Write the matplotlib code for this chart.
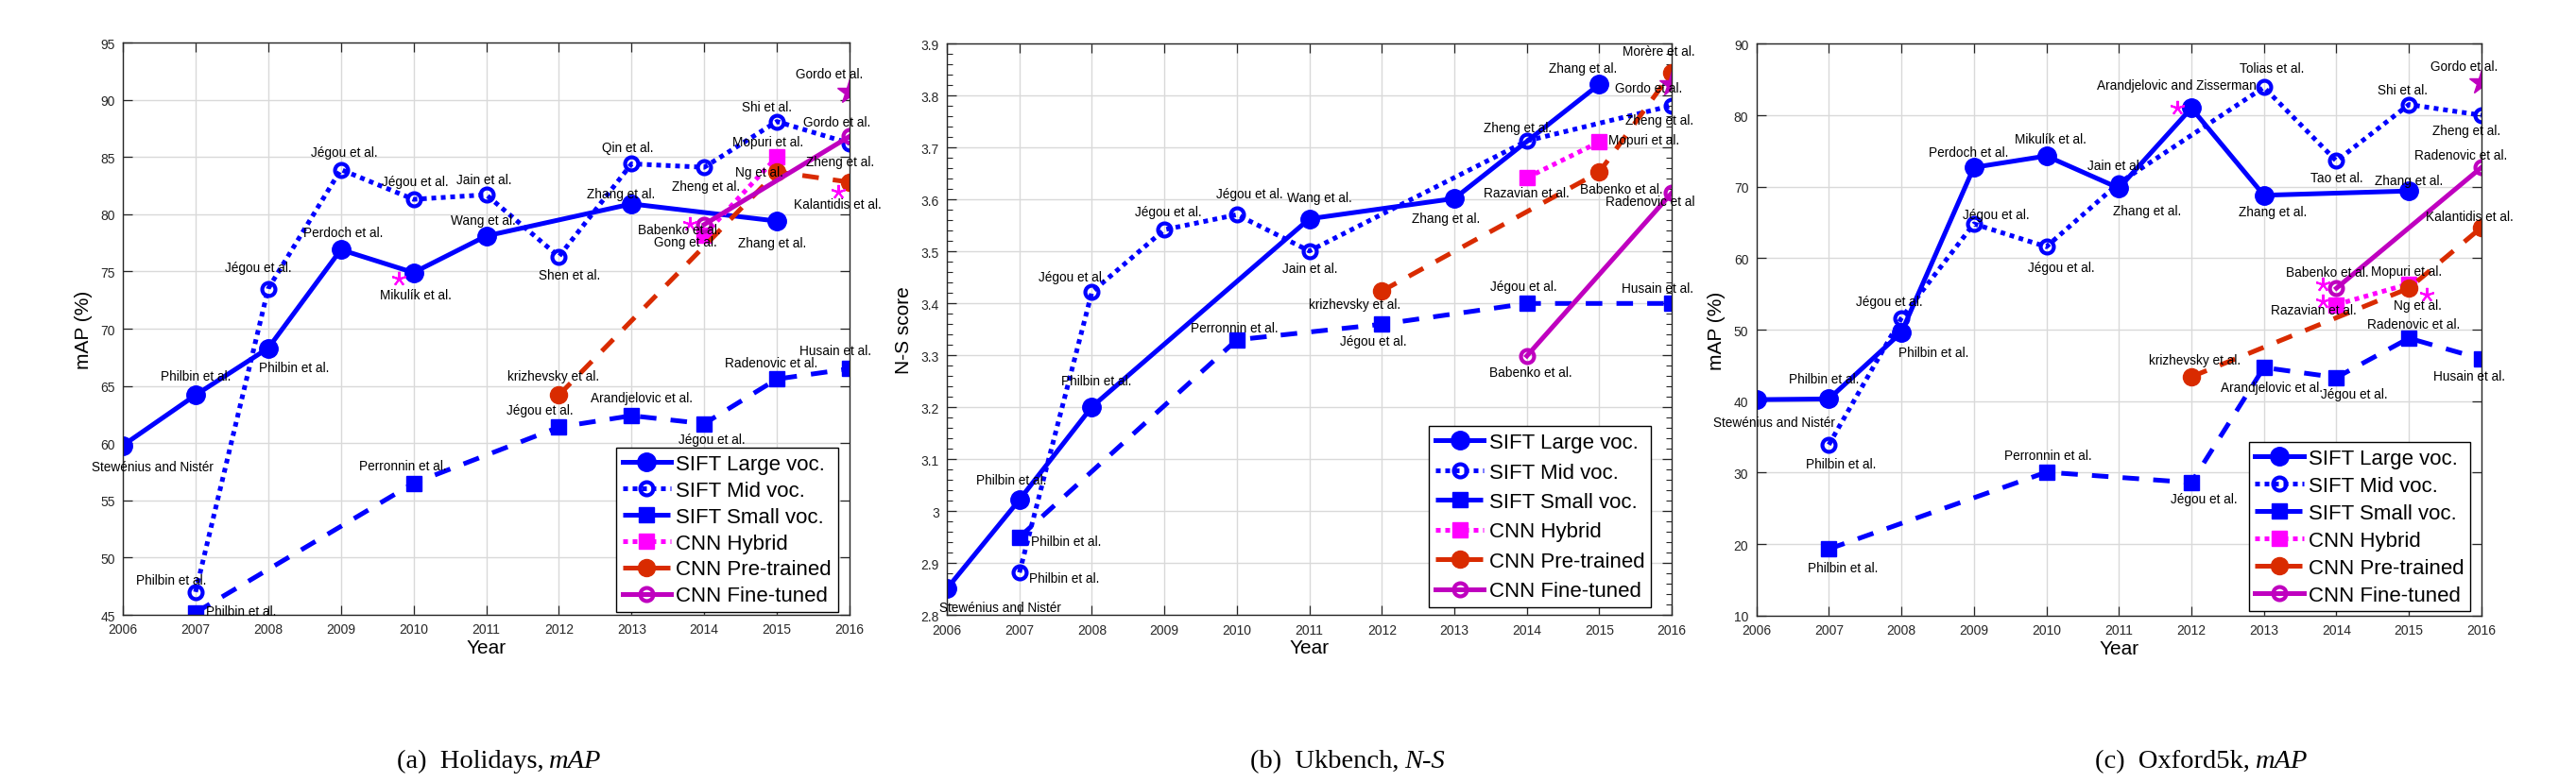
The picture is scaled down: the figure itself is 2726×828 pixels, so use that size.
import matplotlib
matplotlib.use('Agg')
import matplotlib.pyplot as plt
from matplotlib.ticker import MultipleLocator, FuncFormatter

plt.rcParams['font.family'] = ['Liberation Sans', 'DejaVu Sans']

names = ['SIFT Large voc.', 'SIFT Mid voc.', 'SIFT Small voc.',
         'CNN Hybrid', 'CNN Pre-trained', 'CNN Fine-tuned']

# ---------------- (a) Holidays, mAP ----------------
a_large_x = [2006, 2007, 2008, 2009, 2010, 2011, 2013, 2015]
a_large_y = [59.8, 64.2, 68.3, 76.9, 74.9, 78.1, 80.9, 79.4]
a_mid_x = [2007, 2008, 2009, 2010, 2011, 2012, 2013, 2014, 2015, 2016]
a_mid_y = [47.0, 73.5, 83.9, 81.3, 81.7, 76.3, 84.4, 84.1, 88.1, 86.2]
a_small_x = [2007, 2010, 2012, 2013, 2014, 2015, 2016]
a_small_y = [45.2, 56.5, 61.4, 62.4, 61.7, 65.6, 66.5]
a_hyb_x = [2014, 2015]
a_hyb_y = [78.2, 85.0]
a_pre_x = [2012, 2015, 2016]
a_pre_y = [64.2, 83.7, 82.8]
a_fine_x = [2014, 2016]
a_fine_y = [79.1, 86.8]
a_ast_x = [2009.8, 2013.8, 2015.84]
a_ast_y = [74.4, 79.2, 82.0]
a_star_x = [2016]
a_star_y = [90.7]
a_notes = [
    (2006.41, 57.95, 'Stewénius and Nistér'), (2007.0, 65.85, 'Philbin et al.'),
    (2008.35, 66.6, 'Philbin et al.'), (2006.67, 48.05, 'Philbin et al.'),
    (2007.63, 45.35, 'Philbin et al.'), (2009.85, 58.0, 'Perronnin et al.'),
    (2007.86, 75.4, 'Jégou et al.'), (2009.05, 85.45, 'Jégou et al.'),
    (2009.03, 78.4, 'Perdoch et al.'), (2010.02, 82.9, 'Jégou et al.'),
    (2010.03, 73.0, 'Mikulík et al.'), (2010.97, 83.0, 'Jain et al.'),
    (2010.96, 79.5, 'Wang et al.'), (2012.14, 74.7, 'Shen et al.'),
    (2012.95, 85.85, 'Qin et al.'), (2012.85, 81.8, 'Zhang et al.'),
    (2014.03, 82.5, 'Zheng et al.'), (2014.86, 89.35, 'Shi et al.'),
    (2015.72, 92.25, 'Gordo et al.'), (2015.82, 88.05, 'Gordo et al.'),
    (2014.88, 86.3, 'Mopuri et al.'), (2015.87, 84.6, 'Zheng et al.'),
    (2014.76, 83.7, 'Ng et al.'), (2015.83, 80.9, 'Kalantidis et al.'),
    (2013.65, 78.65, 'Babenko et al.'), (2013.74, 77.6, 'Gong et al.'),
    (2014.94, 77.55, 'Zhang et al.'), (2011.93, 65.85, 'krizhevsky et al.'),
    (2011.74, 62.9, 'Jégou et al.'), (2013.14, 63.95, 'Arandjelovic et al.'),
    (2014.1, 60.35, 'Jégou et al.'), (2014.92, 67.0, 'Radenovic et al.'),
    (2015.8, 68.1, 'Husain et al.'),
]

# ---------------- (b) Ukbench, N-S ----------------
b_large_x = [2006, 2007, 2008, 2011, 2013, 2015]
b_large_y = [2.851, 3.022, 3.201, 3.563, 3.602, 3.822]
b_mid_x = [2007, 2008, 2009, 2010, 2011, 2014, 2016]
b_mid_y = [2.882, 3.422, 3.542, 3.571, 3.501, 3.713, 3.781]
b_small_x = [2007, 2010, 2012, 2014, 2016]
b_small_y = [2.95, 3.33, 3.36, 3.40, 3.40]
b_hyb_x = [2014, 2015]
b_hyb_y = [3.642, 3.711]
b_pre_x = [2012, 2015, 2016]
b_pre_y = [3.424, 3.653, 3.845]
b_fine_x = [2014, 2016]
b_fine_y = [3.299, 3.613]
b_ast_x = []
b_ast_y = []
b_star_x = [2016]
b_star_y = [3.822]
b_notes = [
    (2006.73, 2.815, 'Stewénius and Nistér'), (2006.89, 3.06, 'Philbin et al.'),
    (2008.06, 3.251, 'Philbin et al.'), (2007.64, 2.942, 'Philbin et al.'),
    (2007.62, 2.871, 'Philbin et al.'), (2009.96, 3.353, 'Perronnin et al.'),
    (2011.88, 3.327, 'Jégou et al.'), (2007.73, 3.451, 'Jégou et al.'),
    (2009.06, 3.577, 'Jégou et al.'), (2010.17, 3.611, 'Jégou et al.'),
    (2011.14, 3.604, 'Wang et al.'), (2011.01, 3.467, 'Jain et al.'),
    (2011.62, 3.398, 'krizhevsky et al.'), (2012.89, 3.564, 'Zhang et al.'),
    (2013.87, 3.739, 'Zheng et al.'), (2013.99, 3.613, 'Razavian et al.'),
    (2013.96, 3.433, 'Jégou et al.'), (2014.77, 3.853, 'Zhang et al.'),
    (2015.82, 3.886, 'Morère et al.'), (2015.68, 3.816, 'Gordo et al.'),
    (2015.83, 3.753, 'Zheng et al.'), (2015.62, 3.716, 'Mopuri et al.'),
    (2015.3, 3.621, 'Babenko et al.'), (2015.7, 3.597, 'Radenovic et al'),
    (2015.8, 3.43, 'Husain et al.'), (2014.05, 3.268, 'Babenko et al.'),
]

# ---------------- (c) Oxford5k, mAP ----------------
c_large_x = [2006, 2007, 2008, 2009, 2010, 2011, 2012, 2013, 2015]
c_large_y = [40.2, 40.3, 49.6, 72.7, 74.3, 69.8, 81.0, 68.8, 69.4]
c_mid_x = [2007, 2008, 2009, 2010, 2011, 2013, 2014, 2015, 2016]
c_mid_y = [33.9, 51.6, 64.8, 61.6, 70.5, 83.9, 73.6, 81.5, 80.0]
c_small_x = [2007, 2010, 2012, 2013, 2014, 2015, 2016]
c_small_y = [19.3, 30.05, 28.6, 44.7, 43.3, 48.8, 45.9]
c_hyb_x = [2014, 2015]
c_hyb_y = [53.5, 56.4]
c_pre_x = [2012, 2015, 2016]
c_pre_y = [43.4, 55.8, 64.3]
c_fine_x = [2014, 2016]
c_fine_y = [55.8, 72.7]
c_ast_x = [2011.8, 2013.81, 2013.81, 2015.25]
c_ast_y = [81.05, 56.4, 54.0, 54.9]
c_star_x = [2016]
c_star_y = [84.6]
c_notes = [
    (2006.24, 37.0, 'Stewénius and Nistér'), (2006.93, 43.1, 'Philbin et al.'),
    (2008.45, 46.8, 'Philbin et al.'), (2007.17, 31.2, 'Philbin et al.'),
    (2007.2, 16.7, 'Philbin et al.'), (2010.02, 32.4, 'Perronnin et al.'),
    (2012.17, 26.3, 'Jégou et al.'), (2012.04, 45.8, 'krizhevsky et al.'),
    (2007.83, 54.0, 'Jégou et al.'), (2008.93, 74.8, 'Perdoch et al.'),
    (2009.31, 66.1, 'Jégou et al.'), (2010.06, 76.65, 'Mikulík et al.'),
    (2010.21, 58.7, 'Jégou et al.'), (2010.95, 73.0, 'Jain et al.'),
    (2011.39, 66.7, 'Zhang et al.'), (2011.80, 84.2, 'Arandjelovic and Zisserman'),
    (2013.11, 86.6, 'Tolias et al.'), (2014.91, 83.6, 'Shi et al.'),
    (2015.76, 86.9, 'Gordo et al.'), (2015.79, 77.9, 'Zheng et al.'),
    (2014.0, 71.3, 'Tao et al.'), (2015.0, 70.9, 'Zhang et al.'),
    (2013.12, 66.5, 'Zhang et al.'), (2015.72, 74.45, 'Radenovic et al.'),
    (2015.83, 65.9, 'Kalantidis et al.'), (2013.88, 58.1, 'Babenko et al.'),
    (2014.96, 58.2, 'Mopuri et al.'), (2013.69, 52.8, 'Razavian et al.'),
    (2015.12, 53.4, 'Ng et al.'), (2015.07, 50.8, 'Radenovic et al.'),
    (2013.11, 41.9, 'Arandjelovic et al.'), (2014.25, 41.0, 'Jégou et al.'),
    (2015.83, 43.5, 'Husain et al.'),
]

blue = '#0000ff'
red = '#d92b00'
styles = [
    dict(color=blue, ls='-', marker='o', ms=14, mfc=blue, mew=1),
    dict(color=blue, ls=(0, (1, 1)), marker='o', ms=10, mfc='none', mew=3),
    dict(color=blue, ls=(0, (3.5, 3)), marker='s', ms=11, mfc=blue, mew=1),
    dict(color='#ff00ff', ls=(0, (1, 1)), marker='s', ms=11, mfc='#ff00ff', mew=1),
    dict(color=red, ls=(0, (3.5, 3)), marker='o', ms=13, mfc=red, mew=1),
    dict(color='#bf00bf', ls='-', marker='o', ms=10, mfc='none', mew=3),
]


def draw(ax, series, ast, star, notes):
    lines = []
    for (xs, ys), st in zip(series, styles):
        ln, = ax.plot(xs, ys, lw=3.6, **st)
        lines.append(ln)
    ax.plot(ast[0], ast[1], ls='none', marker=(5, 2, 0), ms=11, mew=1.5, color='#ff00ff')
    ax.plot(star[0], star[1], ls='none', marker='*', ms=20, color='#bf00bf')
    for x, y, s in notes:
        ax.text(x, y, s, ha='center', va='center', fontsize=9.8, color='black')
    ax.set_xlim(2006, 2016)
    ax.set_xticks(range(2006, 2017))
    ax.grid(True, color='#d9d9d9', lw=1)
    ax.set_axisbelow(True)
    ax.tick_params(direction='in', top=True, right=True, length=7, width=0.9,
                   labelsize=10, colors='#262626', pad=6)
    for sp in ax.spines.values():
        sp.set_color('#262626')
        sp.set_linewidth(1)
    ax.set_xlabel('Year', fontsize=15, labelpad=2)
    return lines


fig = plt.figure(figsize=(27.26, 8.29), dpi=100)

ax1 = fig.add_axes([0.0477, 0.2135, 0.2821, 0.7310])
l1 = draw(ax1, [(a_large_x, a_large_y), (a_mid_x, a_mid_y), (a_small_x, a_small_y),
                (a_hyb_x, a_hyb_y), (a_pre_x, a_pre_y), (a_fine_x, a_fine_y)],
          (a_ast_x, a_ast_y), (a_star_x, a_star_y), a_notes)
ax1.set_ylim(45, 95)
ax1.set_yticks(range(45, 96, 5))
ax1.set_ylabel('mAP (%)', fontsize=15, labelpad=6)
ax1.legend(l1, names, loc='lower right', bbox_to_anchor=(0.984, 0.005), borderaxespad=0,
           fontsize=16, handlelength=2.3, handletextpad=0.25, labelspacing=0.31,
           borderpad=0.3, fancybox=False, framealpha=1, edgecolor='black')

ax2 = fig.add_axes([0.3676, 0.2132, 0.2814, 0.7297])
l2 = draw(ax2, [(b_large_x, b_large_y), (b_mid_x, b_mid_y), (b_small_x, b_small_y),
                (b_hyb_x, b_hyb_y), (b_pre_x, b_pre_y), (b_fine_x, b_fine_y)],
          (b_ast_x, b_ast_y), (b_star_x, b_star_y), b_notes)
ax2.set_ylim(2.8, 3.9)
ax2.yaxis.set_major_locator(MultipleLocator(0.1))
ax2.yaxis.set_minor_locator(MultipleLocator(0.02))
ax2.yaxis.set_major_formatter(FuncFormatter(lambda v, p: '%g' % round(v, 2)))
ax2.tick_params(axis='y', which='minor', direction='in', left=True, right=True,
                length=4, width=0.8, colors='#262626')
ax2.set_ylabel('N-S score', fontsize=15, labelpad=6)
ax2.legend(l2, names, loc='lower right', bbox_to_anchor=(0.971, 0.0137), borderaxespad=0,
           fontsize=16, handlelength=2.3, handletextpad=0.25, labelspacing=0.47,
           borderpad=0.3, fancybox=False, framealpha=1, edgecolor='black')

ax3 = fig.add_axes([0.6818, 0.2127, 0.2815, 0.7302])
l3 = draw(ax3, [(c_large_x, c_large_y), (c_mid_x, c_mid_y), (c_small_x, c_small_y),
                (c_hyb_x, c_hyb_y), (c_pre_x, c_pre_y), (c_fine_x, c_fine_y)],
          (c_ast_x, c_ast_y), (c_star_x, c_star_y), c_notes)
ax3.set_ylim(10, 90)
ax3.set_yticks(range(10, 91, 10))
ax3.set_ylabel('mAP (%)', fontsize=15, labelpad=6)
ax3.legend(l3, names, loc='lower right', bbox_to_anchor=(0.985, 0.0073), borderaxespad=0,
           fontsize=16, handlelength=2.3, handletextpad=0.25, labelspacing=0.36,
           borderpad=0.3, fancybox=False, framealpha=1, edgecolor='black')

# captions
serif = ['Liberation Serif', 'DejaVu Serif']
for xs, plain, ital in [(581, '(a)  Holidays,', 'mAP'),
                        (1486, '(b)  Ukbench,', 'N-S'),
                        (2387, '(c)  Oxford5k,', 'mAP')]:
    fig.text((xs - 6) / 2726, 0.027, plain, ha='right', va='center', fontsize=20.5, family=serif)
    fig.text(xs / 2726, 0.027, ital, ha='left', va='center', fontsize=20.5, family=serif,
             style='italic')

fig.savefig('out.png', dpi=100)
